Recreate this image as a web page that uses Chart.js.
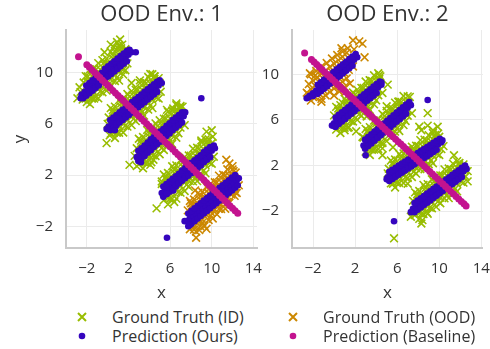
<!DOCTYPE html>
<html>
<head>
<meta charset="utf-8">
<script src="https://cdn.jsdelivr.net/npm/chart.js@4.4.1/dist/chart.umd.min.js"></script>
<style>
  body { margin: 0; background: #fff; }
  #wrap { position: relative; width: 490px; height: 349px; overflow: hidden; font-family: "Open Sans", sans-serif; color: #333; }
  #wrap canvas { position: absolute; top: 0; }
  #c1 { left: 0; }
  #c2 { left: 262px; }
  .lg { position: absolute; font-size: 16px; line-height: 18px; white-space: nowrap; }
  .mk { position: absolute; }
</style>
</head>
<body>
<div id="wrap">
  <canvas id="c1" width="270" height="305"></canvas>
  <canvas id="c2" width="228" height="305"></canvas>

  <svg class="mk" style="left:77px;top:312px" width="10" height="10"><path d="M1 1L9 9M9 1L1 9" stroke="#98bd00" stroke-width="2"/></svg>
  <div class="lg" style="left:112px;top:308px">Ground Truth (ID)</div>
  <svg class="mk" style="left:288px;top:312px" width="10" height="10"><path d="M1 1L9 9M9 1L1 9" stroke="#cc8800" stroke-width="2"/></svg>
  <div class="lg" style="left:323px;top:308px">Ground Truth (OOD)</div>
  <svg class="mk" style="left:77px;top:331px" width="10" height="10"><circle cx="5" cy="5" r="3.3" fill="#3505be"/></svg>
  <div class="lg" style="left:112px;top:327px">Prediction (Ours)</div>
  <svg class="mk" style="left:288px;top:331px" width="10" height="10"><circle cx="5" cy="5" r="3.3" fill="#c3138f"/></svg>
  <div class="lg" style="left:323px;top:327px">Prediction (Baseline)</div>
</div>
<script>
// tick positions shared by both panels
const xTicks = [-2, 2, 6, 10, 14];
const yTicks = [-2, 2, 6, 10];

// ================= OOD Env. 1 =================
// ground truth, in-distribution (four clusters)
const env1TruthId = [
  // cluster around (0, 10)
  [-2.1,9.73],[-1.7,10.25],[-1.3,10.33],[-0.9,10.75],[-0.5,10.98],[-0.1,11.1],[0.3,11.63],[0.7,11.7],[1.1,12.13],
  [-2.7,8.86],[-2.3,9.24],[-1.9,9.31],[-1.5,9.74],[-1.1,9.91],[-0.7,10.24],[-0.3,10.61],[0.1,10.69],[0.5,11.11],[0.9,11.29],[1.3,11.71],[1.7,11.84],
  [-2.1,7.98],[-1.7,8.1],[-1.3,8.48],[-0.9,8.7],[-0.5,8.88],[-0.1,9.35],[0.3,9.48],[0.7,9.85],[1.1,10.08],[1.5,10.25],[1.9,10.73],
  [-1.7,7.55],[-1.3,7.98],[-0.9,8.0],[-0.5,8.48],[-0.1,8.6],[0.3,8.93],[0.7,9.35],[1.1,9.38],[1.5,9.85],
  [-1.9,9.71],[-1.1,10.26],[-0.3,10.81],[0.5,11.36],[1.3,11.91],[-1.5,7.99],[-0.7,8.54],[0.1,9.09],[0.9,9.64],[1.7,10.19],
  [0.9,12.4],[1.4,12.2],[1.0,11.9],[1.7,11.8],[1.2,12.6],[0.3,12.2],[0.6,12.0],[-0.3,11.6],
  [-2.9,8.0],[-2.0,7.7],[-1.2,8.1],[-2.6,8.5],[-2.4,7.9],
  // cluster around (2.5, 7.5)
  [0.3,7.23],[0.7,7.35],[1.1,7.86],[1.5,7.93],[1.9,8.34],[2.3,8.56],[2.7,8.67],[3.1,9.19],[3.5,9.25],[3.9,9.67],[4.3,9.88],
  [0.1,6.5],[0.5,6.87],[0.9,6.93],[1.3,7.35],[1.7,7.51],[2.1,7.83],[2.5,8.19],[2.9,8.26],[3.3,8.67],[3.7,8.84],[4.1,9.15],[4.5,9.52],[4.9,9.58],
  [0.3,5.23],[0.7,5.4],[1.1,5.86],[1.5,5.98],[1.9,6.34],[2.3,6.56],[2.7,6.72],[3.1,7.19],[3.5,7.3],[3.9,7.67],[4.3,7.88],[4.7,8.05],[5.1,8.51],
  [0.7,4.9],[1.1,5.31],[1.5,5.33],[1.9,5.79],[2.3,5.91],[2.7,6.22],[3.1,6.64],[3.5,6.65],[3.9,7.12],[4.3,7.23],
  [0.5,7.07],[1.3,7.6],[2.1,8.13],[2.9,8.66],[3.7,9.19],[4.5,9.72],[0.9,5.33],[1.7,5.86],[2.5,6.39],[3.3,6.92],[4.1,7.45],[4.9,7.98],
  [-0.1,4.5],[0.2,5.1],[0.6,5.3],[4.1,9.9],[4.5,9.7],[5.0,9.2],[3.1,9.4],[2.3,9.2],[4.4,9.1],[0.0,6.0],
  // cluster around (5, 5)
  [3.0,4.84],[3.4,4.98],[3.8,5.52],[4.2,5.6],[4.6,6.04],[5.0,6.28],[5.4,6.41],[5.8,6.95],[6.2,7.04],[6.6,7.47],
  [2.8,4.1],[3.2,4.49],[3.6,4.57],[4.0,5.01],[4.4,5.2],[4.8,5.53],[5.2,5.92],[5.6,6.01],[6.0,6.44],[6.4,6.63],[6.8,6.97],[7.2,7.35],
  [3.0,2.84],[3.4,3.03],[3.8,3.52],[4.2,3.65],[4.6,4.04],[5.0,4.28],[5.4,4.46],[5.8,4.95],[6.2,5.09],[6.6,5.47],[7.0,5.71],[7.4,5.9],
  [3.4,2.53],[3.8,2.97],[4.2,3.0],[4.6,3.49],[5.0,3.63],[5.4,3.96],[5.8,4.4],[6.2,4.44],[6.6,4.92],
  [3.2,4.69],[4.0,5.26],[4.8,5.83],[5.6,6.41],[6.4,6.98],[7.0,7.41],[3.6,2.97],[4.4,3.55],[5.2,4.12],[6.0,4.69],[6.8,5.27],
  [2.1,2.8],[2.8,2.7],[4.1,2.8],[4.4,3.2],[6.6,7.6],[6.3,7.2],[5.7,7.1],[7.0,7.3],[2.6,3.5],
  // cluster around (7.7, 2.3)
  [5.4,2.04],[5.8,2.16],[6.2,2.69],[6.6,2.76],[7.0,3.18],[7.4,3.41],[7.8,3.53],[8.2,4.06],[8.6,4.13],[9.0,4.56],[9.4,4.78],
  [5.2,1.3],[5.6,1.67],[6.0,1.75],[6.4,2.17],[6.8,2.35],[7.2,2.67],[7.6,3.05],[8.0,3.12],[8.4,3.55],[8.8,3.72],[9.2,4.04],[9.6,4.42],[10.0,4.49],
  [5.4,0.04],[5.8,0.21],[6.2,0.69],[6.6,0.81],[7.0,1.18],[7.4,1.41],[7.8,1.58],[8.2,2.06],[8.6,2.18],[9.0,2.56],[9.4,2.78],[9.8,2.96],[10.2,3.43],
  [5.8,-0.29],[6.2,0.14],[6.6,0.16],[7.0,0.63],[7.4,0.76],[7.8,1.08],[8.2,1.51],[8.6,1.53],[9.0,2.01],[9.4,2.13],
  [5.6,1.87],[6.4,2.42],[7.2,2.97],[8.0,3.52],[8.8,4.07],[9.6,4.62],[6.0,0.15],[6.8,0.7],[7.6,1.25],[8.4,1.8],[9.2,2.34],[10.0,2.89],
  [4.7,-0.6],[5.2,1.5],[6.4,-0.1],[10.0,5.5],[9.5,5.4],[10.1,5.0],[9.0,4.7],[9.7,4.8]
];
// ground truth, out-of-distribution cluster
const env1TruthOod = [
  [7.9,-0.03],[8.3,0.09],[8.7,0.61],[9.1,0.68],[9.5,1.1],[9.9,1.32],[10.3,1.44],[10.7,1.96],[11.1,2.03],[11.5,2.45],
  [7.7,-0.76],[8.1,-0.39],[8.5,-0.32],[8.9,0.1],[9.3,0.27],[9.7,0.59],[10.1,0.96],[10.5,1.03],[10.9,1.45],[11.3,1.62],[11.7,1.94],[12.1,2.31],
  [7.9,-2.23],[8.3,-2.06],[8.7,-1.59],[9.1,-1.47],[9.5,-1.1],[9.9,-0.88],[10.3,-0.71],[10.7,-0.24],[11.1,-0.12],[11.5,0.25],[11.9,0.47],[12.3,0.64],
  [8.5,-2.42],[8.9,-2.0],[9.3,-1.98],[9.7,-1.51],[10.1,-1.39],[10.5,-1.07],[10.9,-0.65],[11.3,-0.63],[11.7,-0.16],
  [8.1,-0.19],[8.9,0.35],[9.7,0.89],[10.5,1.43],[11.3,1.97],[12.0,2.44],[8.3,-2.26],[9.1,-1.72],[9.9,-1.18],[10.7,-0.64],[11.5,-0.1],[12.2,0.38],
  [8.5,-2.9],[8.8,-2.3],[9.5,-2.2],[11.4,3.2],[11.7,2.9],[12.0,2.7],[12.4,0.6],[12.6,1.2],[8.4,0.8],[8.0,-0.2],[12.3,2.2]
];
// our predictions
const env1Ours = [
  [-2.5,8.3],[-2.2,8.5],[-1.9,8.7],[-1.6,8.9],[-1.3,9.1],[-1.0,9.3],[-0.7,9.5],[-0.4,9.8],[-0.1,10.0],[0.2,10.2],
  [0.5,10.4],[0.8,10.6],[1.1,10.8],[1.4,11.0],[1.7,11.2],[2.0,11.4],[2.3,11.6],
  [-2.05,9.0],[-1.75,9.2],[-1.45,9.4],[-1.15,9.6],[-0.85,9.8],[-0.55,10.0],[-0.25,10.3],[0.05,10.5],[0.35,10.7],
  [0.65,10.9],[0.95,11.1],[1.25,11.3],[1.55,11.5],[1.85,11.7],[2.1,11.8],
  [-2.35,8.0],[-2.05,8.2],[-1.75,8.4],[-1.45,8.6],[-1.15,8.8],[-0.85,9.0],[-0.55,9.3],[-0.25,9.5],[0.05,9.7],
  [0.35,9.9],[0.65,10.1],[0.95,10.3],[1.25,10.5],[1.55,10.7],[1.85,10.9],[2.7,11.6],[-2.6,8.0],

  [0.1,5.8],[0.4,6.0],[0.7,6.2],[1.0,6.4],[1.3,6.6],[1.6,6.8],[1.9,7.0],[2.2,7.2],[2.5,7.4],[2.8,7.6],
  [3.1,7.8],[3.4,8.0],[3.7,8.2],[4.0,8.4],[4.3,8.6],[4.6,8.8],[4.9,9.0],[5.2,9.2],
  [0.25,6.3],[0.55,6.5],[0.85,6.7],[1.15,6.9],[1.45,7.1],[1.75,7.3],[2.05,7.5],[2.35,7.7],[2.65,7.9],[2.95,8.1],
  [3.25,8.3],[3.55,8.5],[3.85,8.7],[4.15,8.9],[4.45,9.1],[4.75,9.3],[5.0,9.4],
  [0.25,5.5],[0.55,5.7],[0.85,5.9],[1.15,6.1],[1.45,6.3],[1.75,6.5],[2.05,6.7],[2.35,6.9],[2.65,7.1],[2.95,7.3],
  [3.25,7.5],[3.55,7.7],[3.85,7.9],[4.15,8.1],[4.45,8.3],[4.75,8.5],[-0.1,5.6],[0.7,5.5],

  [2.8,3.4],[3.1,3.6],[3.4,3.8],[3.7,4.05],[4.0,4.3],[4.3,4.5],[4.6,4.7],[4.9,4.9],[5.2,5.1],[5.5,5.3],
  [5.8,5.55],[6.1,5.8],[6.4,6.0],[6.7,6.2],[7.0,6.4],[7.3,6.6],
  [2.95,3.9],[3.25,4.1],[3.55,4.3],[3.85,4.55],[4.15,4.8],[4.45,5.0],[4.75,5.2],[5.05,5.4],[5.35,5.6],[5.65,5.85],
  [5.95,6.05],[6.25,6.3],[6.55,6.5],[6.85,6.7],[7.15,6.9],
  [2.95,3.1],[3.25,3.3],[3.55,3.5],[3.85,3.75],[4.15,3.95],[4.45,4.2],[4.75,4.4],[5.05,4.6],[5.35,4.8],[5.65,5.05],
  [5.95,5.25],[6.25,5.5],[6.55,5.7],[6.85,5.9],[7.15,6.1],[3.2,3.0],[7.45,6.9],

  [5.2,0.6],[5.5,0.8],[5.8,1.0],[6.1,1.2],[6.4,1.4],[6.7,1.6],[7.0,1.8],[7.3,2.05],[7.6,2.25],[7.9,2.45],
  [8.2,2.65],[8.5,2.85],[8.8,3.05],[9.1,3.3],[9.4,3.5],[9.7,3.7],[10.0,3.9],[10.3,4.1],
  [5.35,1.1],[5.65,1.3],[5.95,1.5],[6.25,1.7],[6.55,1.9],[6.85,2.1],[7.15,2.35],[7.45,2.55],[7.75,2.75],[8.05,2.95],
  [8.35,3.15],[8.65,3.35],[8.95,3.55],[9.25,3.8],[9.55,4.0],[9.85,4.2],
  [5.35,0.3],[5.65,0.5],[5.95,0.7],[6.25,0.9],[6.55,1.1],[6.85,1.35],[7.15,1.55],[7.45,1.75],[7.75,1.95],[8.05,2.15],
  [8.35,2.35],[8.65,2.55],[8.95,2.75],[9.25,3.0],[9.55,3.2],[9.85,3.4],[5.7,0.55],[6.3,0.8],[10.2,4.3],

  [7.6,-1.6],[7.9,-1.4],[8.2,-1.2],[8.5,-1.0],[8.8,-0.8],[9.1,-0.6],[9.4,-0.4],[9.7,-0.2],[10.0,0.0],[10.3,0.2],
  [10.6,0.4],[10.9,0.6],[11.2,0.8],[11.5,1.0],[11.8,1.2],[12.1,1.4],[12.4,1.6],
  [7.75,-1.0],[8.05,-0.8],[8.35,-0.6],[8.65,-0.4],[8.95,-0.2],[9.25,0.0],[9.55,0.2],[9.85,0.4],[10.15,0.6],[10.45,0.8],
  [10.75,1.0],[11.05,1.2],[11.35,1.4],[11.65,1.6],[11.95,1.8],[12.25,2.0],
  [7.75,-2.0],[8.05,-1.8],[8.35,-1.6],[8.65,-1.4],[8.95,-1.2],[9.25,-1.0],[9.55,-0.8],[9.85,-0.6],[10.15,-0.4],[10.45,-0.2],
  [10.75,0.0],[11.05,0.2],[11.35,0.4],[11.65,0.6],[11.95,0.8],[12.25,1.0],[7.4,-1.6],[7.9,-1.9],[12.5,1.2],[12.6,1.75],

  [9.0,8.0],[5.7,-2.9]
];
// baseline predictions
const env1Baseline = [
  [-2.8,11.25],[-2.0,10.62],[-1.75,10.42],[-1.5,10.22],[-1.25,10.02],[-1.0,9.82],[-0.75,9.62],[-0.5,9.42],[-0.25,9.22],
  [0.0,9.02],[0.25,8.82],[0.5,8.62],[0.75,8.42],[1.0,8.22],[1.25,8.02],[1.5,7.82],[1.75,7.62],[2.0,7.42],[2.25,7.22],
  [2.5,7.02],[2.75,6.81],[3.0,6.61],[3.25,6.41],[3.5,6.21],[3.75,6.01],[4.0,5.81],[4.25,5.61],[4.5,5.41],[4.75,5.21],
  [5.0,5.01],[5.25,4.81],[5.5,4.61],[5.75,4.41],[6.0,4.21],[6.25,4.01],[6.5,3.81],[6.75,3.61],[7.0,3.41],[7.25,3.21],
  [7.5,3.01],[7.75,2.81],[8.0,2.61],[8.25,2.41],[8.5,2.21],[8.75,2.01],[9.0,1.81],[9.25,1.61],[9.5,1.41],[9.75,1.21],
  [10.0,1.01],[10.25,0.81],[10.5,0.61],[10.75,0.41],[11.0,0.21],[11.25,0.01],[11.5,-0.19],[11.75,-0.39],[12.0,-0.59],
  [12.25,-0.79],[12.5,-0.99]
];

// ================= OOD Env. 2 =================
const env2TruthId = [
  // cluster around (2.2, 7.4)
  [0.2,7.15],[0.6,7.3],[1.0,7.86],[1.4,7.96],[1.8,8.41],[2.2,8.66],[2.6,8.81],[3.0,9.37],[3.4,9.47],[3.8,9.92],
  [0.0,6.4],[0.4,6.8],[0.8,6.9],[1.2,7.36],[1.6,7.56],[2.0,7.91],[2.4,8.31],[2.8,8.41],[3.2,8.87],[3.6,9.07],[4.0,9.42],[4.4,9.82],
  [0.2,5.15],[0.6,5.35],[1.0,5.86],[1.4,6.01],[1.8,6.41],[2.2,6.66],[2.6,6.86],[3.0,7.37],[3.4,7.52],[3.8,7.92],[4.2,8.17],[4.6,8.37],
  [0.6,4.85],[1.0,5.31],[1.4,5.36],[1.8,5.86],[2.2,6.01],[2.6,6.36],[3.0,6.82],[3.4,6.87],[3.8,7.37],
  [0.4,7.0],[1.2,7.61],[2.0,8.21],[2.8,8.81],[3.6,9.42],[4.3,9.95],[0.8,5.3],[1.6,5.91],[2.4,6.51],[3.2,7.12],[4.0,7.72],
  [0.5,5.5],[1.0,5.1],[1.3,5.3],[2.1,5.0],[4.2,10.1],[4.3,9.6],[5.1,9.1],[3.4,9.5],[0.8,7.5],[3.1,6.3],
  // cluster around (5, 5.5)
  [3.0,5.21],[3.4,5.37],[3.8,5.94],[4.2,6.05],[4.6,6.52],[5.0,6.79],[5.4,6.95],[5.8,7.52],[6.2,7.63],[6.6,8.1],
  [2.8,4.45],[3.2,4.86],[3.6,4.98],[4.0,5.45],[4.4,5.66],[4.8,6.03],[5.2,6.44],[5.6,6.56],[6.0,7.03],[6.4,7.24],[6.8,7.61],[7.2,8.02],
  [3.0,3.21],[3.4,3.42],[3.8,3.94],[4.2,4.1],[4.6,4.52],[5.0,4.79],[5.4,5.0],[5.8,5.52],[6.2,5.68],[6.6,6.1],[7.0,6.37],[7.4,6.58],
  [3.4,2.92],[3.8,3.39],[4.2,3.45],[4.6,3.97],[5.0,4.14],[5.4,4.5],[5.8,4.97],[6.2,5.03],[6.6,5.55],
  [3.2,5.06],[4.0,5.7],[4.8,6.33],[5.6,6.96],[6.4,7.59],[7.0,8.07],[3.6,3.38],[4.4,4.01],[5.2,4.64],[6.0,5.28],[6.8,5.91],
  [2.7,4.5],[3.9,3.5],[4.6,2.9],[5.6,3.6],[5.0,7.2],[6.1,7.6],[7.0,6.9],[8.9,6.6],[4.6,3.5],
  // cluster around (7.7, 2.5)
  [5.4,2.43],[5.8,2.52],[6.2,3.01],[6.6,3.06],[7.0,3.45],[7.4,3.64],[7.8,3.73],[8.2,4.23],[8.6,4.27],[9.0,4.66],[9.4,4.85],
  [5.2,1.71],[5.6,2.05],[6.0,2.1],[6.4,2.49],[6.8,2.63],[7.2,2.92],[7.6,3.27],[8.0,3.31],[8.4,3.7],[8.8,3.84],[9.2,4.13],[9.6,4.48],[10.0,4.52],
  [5.4,0.43],[5.8,0.57],[6.2,1.01],[6.6,1.11],[7.0,1.45],[7.4,1.64],[7.8,1.78],[8.2,2.23],[8.6,2.32],[9.0,2.66],[9.4,2.85],[9.8,3.0],[10.2,3.44],
  [5.8,0.07],[6.2,0.46],[6.6,0.46],[7.0,0.9],[7.4,0.99],[7.8,1.28],[8.2,1.68],[8.6,1.67],[9.0,2.11],[9.4,2.2],
  [5.6,2.25],[6.4,2.74],[7.2,3.22],[8.0,3.71],[8.8,4.19],[9.6,4.68],[6.0,0.5],[6.8,0.98],[7.6,1.47],[8.4,1.95],[9.2,2.43],[10.0,2.92],
  [5.1,1.3],[5.6,0.4],[7.0,0.4],[8.9,5.5],[9.85,5.4],[9.4,5.1],[8.3,5.1],[8.1,5.4],[10.4,3.7],[9.9,4.8],
  // cluster around (10, 0)
  [7.7,-0.36],[8.1,-0.24],[8.5,0.29],[8.9,0.36],[9.3,0.79],[9.7,1.01],[10.1,1.13],[10.5,1.66],[10.9,1.73],[11.3,2.16],[11.7,2.38],
  [7.5,-1.1],[7.9,-0.73],[8.3,-0.65],[8.7,-0.23],[9.1,-0.05],[9.5,0.27],[9.9,0.65],[10.3,0.72],[10.7,1.14],[11.1,1.32],[11.5,1.64],[11.9,2.02],[12.3,2.09],
  [7.7,-2.36],[8.1,-2.19],[8.5,-1.71],[8.9,-1.59],[9.3,-1.21],[9.7,-0.99],[10.1,-0.82],[10.5,-0.34],[10.9,-0.22],[11.3,0.16],[11.7,0.38],[12.1,0.56],[12.5,1.03],
  [8.1,-2.69],[8.5,-2.26],[8.9,-2.24],[9.3,-1.76],[9.7,-1.64],[10.1,-1.32],[10.5,-0.89],[10.9,-0.87],[11.3,-0.39],[11.7,-0.27],
  [7.9,-0.53],[8.7,0.02],[9.5,0.57],[10.3,1.12],[11.1,1.67],[11.9,2.22],[8.3,-2.25],[9.1,-1.7],[9.9,-1.15],[10.7,-0.6],[11.5,-0.06],[12.3,0.49],
  [7.3,-2.5],[7.6,-2.3],[8.3,-3.1],[8.4,-2.8],[8.8,-2.1],[11.4,2.9],[11.9,2.2],[12.4,1.6],[12.7,0.6],[12.7,1.5],[5.7,-4.4]
];
const env2TruthOod = [
  [-2.2,10.0],[-1.7,10.3],[-1.2,10.7],[-0.7,11.0],[-0.2,11.4],[0.3,11.7],[0.8,12.0],[1.3,12.3],
  [-2.4,9.15],[-2.0,9.45],[-1.6,9.75],[-1.2,10.05],[-0.8,10.35],[-0.4,10.65],[0.0,10.95],[0.4,11.25],[0.8,11.55],
  [-2.6,8.4],[-2.2,8.7],[-1.8,9.0],[-1.4,9.3],[-1.0,9.6],[-0.6,9.9],[-0.2,10.2],[0.2,10.5],[0.6,10.8],[1.0,11.1],[1.4,11.4],
  [-2.2,7.7],[-1.8,8.0],[-1.4,8.3],[-1.0,8.6],[-0.6,8.9],[-0.2,9.2],[0.2,9.5],[0.6,9.8],[1.0,10.1],[1.4,10.4],[1.8,10.7],
  [-1.2,7.85],[-0.8,8.15],[-0.4,8.45],[0.0,8.75],[0.4,9.05],[0.8,9.35],[1.2,9.65],
  [0.0,8.15],[0.5,8.5],[1.0,8.9],[1.5,9.2],
  [-2.5,8.3],[-2.0,8.0],[-1.2,7.6],[1.8,13.0],[2.4,12.9],[2.7,12.7],[2.9,11.5],[0.7,12.3],[1.2,11.9],[1.9,12.2],[-2.3,10.1],[-1.8,9.9]
];
const env2Ours = [
  [-2.6,7.9],[-2.3,8.13],[-2.0,8.35],[-1.7,8.58],[-1.4,8.8],[-1.1,9.03],[-0.8,9.25],[-0.5,9.48],[-0.2,9.7],[0.1,9.93],
  [0.4,10.15],[0.7,10.38],[1.0,10.6],[1.3,10.83],[1.6,11.05],[1.9,11.28],[2.2,11.5],
  [-1.55,9.09],[-1.25,9.31],[-0.95,9.54],[-0.65,9.76],[-0.35,9.99],[-0.05,10.21],[0.25,10.44],[0.55,10.66],[0.85,10.89],
  [1.15,11.11],[1.45,11.34],[1.75,11.56],[2.05,11.79],
  [-1.55,8.29],[-1.25,8.51],[-0.95,8.74],[-0.65,8.96],[-0.35,9.19],[-0.05,9.41],[0.25,9.64],[0.55,9.86],[0.85,10.09],
  [1.15,10.31],[1.45,10.54],[1.75,10.76],[-2.4,8.0],[-2.0,8.1],

  [0.0,5.7],[0.3,5.93],[0.6,6.15],[0.9,6.38],[1.2,6.61],[1.5,6.83],[1.8,7.06],[2.1,7.29],[2.4,7.51],[2.7,7.74],
  [3.0,7.97],[3.3,8.19],[3.6,8.42],[3.9,8.64],[4.2,8.87],[4.5,9.1],
  [0.15,6.21],[0.45,6.44],[0.75,6.67],[1.05,6.89],[1.35,7.12],[1.65,7.35],[1.95,7.57],[2.25,7.8],[2.55,8.03],[2.85,8.25],
  [3.15,8.48],[3.45,8.7],[3.75,8.93],[4.05,9.16],[4.35,9.38],
  [0.15,5.41],[0.45,5.64],[0.75,5.87],[1.05,6.09],[1.35,6.32],[1.65,6.55],[1.95,6.77],[2.25,7.0],[2.55,7.23],[2.85,7.45],
  [3.15,7.68],[3.45,7.9],[3.75,8.13],[4.05,8.36],[-0.2,5.5],[0.1,5.4],[4.5,9.3],

  [2.8,3.75],[3.1,3.98],[3.4,4.22],[3.7,4.46],[4.0,4.7],[4.3,4.93],[4.6,5.17],[4.9,5.41],[5.2,5.64],[5.5,5.88],
  [5.8,6.12],[6.1,6.35],[6.4,6.59],[6.7,6.83],[7.0,7.07],[7.3,7.3],
  [2.95,4.27],[3.25,4.5],[3.55,4.74],[3.85,4.98],[4.15,5.21],[4.45,5.45],[4.75,5.69],[5.05,5.92],[5.35,6.16],[5.65,6.4],
  [5.95,6.64],[6.25,6.87],[6.55,7.11],[6.85,7.35],[7.15,7.58],
  [2.95,3.47],[3.25,3.7],[3.55,3.94],[3.85,4.18],[4.15,4.41],[4.45,4.65],[4.75,4.89],[5.05,5.12],[5.35,5.36],[5.65,5.6],
  [5.95,5.84],[6.25,6.07],[6.55,6.31],[6.85,6.55],[3.0,2.9],[8.9,7.75],

  [5.1,0.95],[5.4,1.13],[5.7,1.31],[6.0,1.5],[6.3,1.68],[6.6,1.86],[6.9,2.04],[7.2,2.22],[7.5,2.4],[7.8,2.59],
  [8.1,2.77],[8.4,2.95],[8.7,3.13],[9.0,3.31],[9.3,3.5],[9.6,3.68],[9.9,3.86],[10.2,4.04],
  [5.25,1.44],[5.55,1.62],[5.85,1.8],[6.15,1.99],[6.45,2.17],[6.75,2.35],[7.05,2.53],[7.35,2.71],[7.65,2.9],[7.95,3.08],
  [8.25,3.26],[8.55,3.44],[8.85,3.62],[9.15,3.8],[9.45,3.99],[9.75,4.17],[10.05,4.35],
  [5.25,0.64],[5.55,0.82],[5.85,1.0],[6.15,1.19],[6.45,1.37],[6.75,1.55],[7.05,1.73],[7.35,1.91],[7.65,2.1],[7.95,2.28],
  [8.25,2.46],[8.55,2.64],[8.85,2.82],[9.15,3.0],[9.45,3.19],[9.75,3.37],[10.3,4.2],[5.0,0.8],

  [7.5,-1.8],[7.8,-1.59],[8.1,-1.39],[8.4,-1.18],[8.7,-0.98],[9.0,-0.77],[9.3,-0.57],[9.6,-0.36],[9.9,-0.15],[10.2,0.05],
  [10.5,0.26],[10.8,0.46],[11.1,0.67],[11.4,0.88],[11.7,1.08],[12.0,1.29],[12.3,1.49],[12.6,1.7],
  [7.65,-1.3],[7.95,-1.09],[8.25,-0.89],[8.55,-0.68],[8.85,-0.47],[9.15,-0.27],[9.45,-0.06],[9.75,0.14],[10.05,0.35],
  [10.35,0.56],[10.65,0.76],[10.95,0.97],[11.25,1.17],[11.55,1.38],[11.85,1.58],[12.15,1.79],[12.45,2.0],
  [7.65,-2.1],[7.95,-1.89],[8.25,-1.69],[8.55,-1.48],[8.85,-1.27],[9.15,-1.07],[9.45,-0.86],[9.75,-0.66],[10.05,-0.45],
  [10.35,-0.24],[10.65,-0.04],[10.95,0.17],[11.25,0.37],[11.55,0.58],[11.85,0.78],[12.15,0.99],[7.3,-2.1],

  [5.7,-2.9]
];
const env2Baseline = [
  [-2.8,11.87],[-2.15,11.3],[-1.9,11.08],[-1.65,10.86],[-1.4,10.64],[-1.15,10.43],[-0.9,10.21],[-0.65,9.99],[-0.4,9.77],
  [-0.15,9.55],[0.1,9.33],[0.35,9.12],[0.6,8.9],[0.85,8.68],[1.1,8.46],[1.35,8.24],[1.6,8.02],[1.85,7.81],[2.1,7.59],
  [2.35,7.37],[2.6,7.15],[2.85,6.93],[3.1,6.71],[3.35,6.5],[3.6,6.28],[3.85,6.06],[4.1,5.84],[4.35,5.62],[4.6,5.4],
  [4.85,5.19],[5.1,4.97],[5.35,4.75],[5.6,4.53],[5.85,4.31],[6.1,4.09],[6.35,3.88],[6.6,3.66],[6.85,3.44],[7.1,3.22],
  [7.35,3.0],[7.6,2.78],[7.85,2.57],[8.1,2.35],[8.35,2.13],[8.6,1.91],[8.85,1.69],[9.1,1.47],[9.35,1.26],[9.6,1.04],
  [9.85,0.82],[10.1,0.59],[10.35,0.37],[10.6,0.15],[10.85,-0.06],[11.1,-0.28],[11.35,-0.5],[11.6,-0.72],[11.85,-0.94],
  [12.1,-1.16],[12.35,-1.37],[12.55,-1.55]
];

const GREEN = '#98bd00';
const ORANGE = '#cc8800';
const BLUE = '#3505be';
const MAGENTA = '#c3138f';

Chart.defaults.font.family = '"Open Sans", sans-serif';
Chart.defaults.color = '#333';

const toXY = arr => arr.map(p => ({ x: p[0], y: p[1] }));
const fmt = v => (v < 0 ? '\u2212' + Math.abs(v) : String(v));

function buildChart(id, title, sets, xRange, yRange, yAxisWidth, rightPad, showYTitle) {
  return new Chart(document.getElementById(id), {
    type: 'scatter',
    data: {
      // first dataset ends up on top
      datasets: [
        { data: toXY(sets.baseline), pointStyle: 'circle', pointRadius: 3.5, backgroundColor: MAGENTA, borderWidth: 0 },
        { data: toXY(sets.ours), pointStyle: 'circle', pointRadius: 3.3, backgroundColor: BLUE, borderWidth: 0 },
        { data: toXY(sets.ood), pointStyle: 'crossRot', pointRadius: 5.5, borderColor: ORANGE, borderWidth: 1.6 },
        { data: toXY(sets.id), pointStyle: 'crossRot', pointRadius: 5.5, borderColor: GREEN, borderWidth: 1.6 }
      ]
    },
    options: {
      responsive: false,
      animation: false,
      events: [],
      layout: { padding: { left: 0, right: rightPad, top: 0, bottom: 0 } },
      plugins: {
        legend: { display: false },
        tooltip: { enabled: false },
        title: {
          display: true, text: title, fullSize: false,
          font: { size: 22, weight: 'normal' }, color: '#333',
          padding: { top: 2, bottom: 1.6 }
        }
      },
      scales: {
        x: {
          type: 'linear', min: xRange[0], max: xRange[1],
          afterBuildTicks: s => { s.ticks = xTicks.map(v => ({ value: v })); },
          afterFit: s => { s.height = 57; s.paddingLeft = 0; s.paddingRight = 0; },
          grid: { color: '#ebebeb', lineWidth: 1, drawTicks: false },
          border: { color: '#c9c9c9', width: 2 },
          ticks: { padding: 12, font: { size: 15 }, color: '#333', maxRotation: 0, callback: fmt },
          title: { display: true, text: 'x', font: { size: 17 }, color: '#333', padding: { top: 0, bottom: 2 } }
        },
        y: {
          type: 'linear', min: yRange[0], max: yRange[1],
          afterBuildTicks: s => { s.ticks = yTicks.map(v => ({ value: v })); },
          afterFit: s => { s.width = yAxisWidth; s.paddingTop = 0; s.paddingBottom = 0; },
          grid: { color: '#ebebeb', lineWidth: 1, drawTicks: false },
          border: { color: '#c9c9c9', width: 2 },
          ticks: { padding: 13, font: { size: 15 }, color: '#333', callback: fmt },
          title: { display: showYTitle, text: 'y', font: { size: 17 }, color: '#333', padding: { top: 10, bottom: 0 } }
        }
      }
    }
  });
}

buildChart('c1', 'OOD Env.: 1',
  { id: env1TruthId, ood: env1TruthOod, ours: env1Ours, baseline: env1Baseline },
  [-4.0, 14.35], [-3.7, 13.34], 66, 13, true);

buildChart('c2', 'OOD Env.: 2',
  { id: env2TruthId, ood: env2TruthOod, ours: env2Ours, baseline: env2Baseline },
  [-4.0, 14.15], [-5.25, 13.9], 30, 7, false);
</script>
</body>
</html>
